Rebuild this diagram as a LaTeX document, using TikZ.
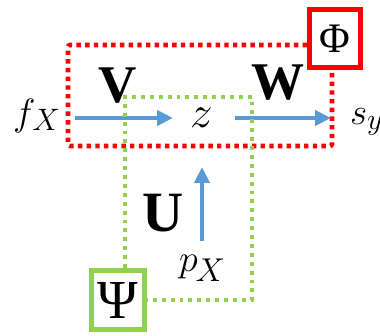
\RequirePackage{fix-cm}
\documentclass[tikz,border=0pt]{standalone}
\usepackage{fontspec}
\setmainfont{Liberation Serif}
\usetikzlibrary{arrows.meta}
\definecolor{rd}{HTML}{FF0000}
\definecolor{gr}{HTML}{92D050}
\definecolor{bl}{HTML}{5B9BD5}
\newcommand{\fsz}[1]{\fontsize{#1}{#1}\selectfont}
\newcommand{\itl}[1]{$#1$}
\begin{document}
\begin{tikzpicture}[x=1pt,y=-1pt,
  txt/.style={inner sep=0pt,outer sep=0pt},
  reddots/.style={draw=rd,line width=4.6pt,dash pattern=on 4.4pt off 4.3pt,rounded corners=2pt},
  grdots/.style={draw=gr,line width=3.9pt,dash pattern=on 3.9pt off 5pt},
  arr/.style={draw=bl,line width=4pt,-{Triangle[length=16pt,width=15pt]}},
  redbox/.style={draw=rd,line width=5pt,minimum width=51pt,minimum height=58pt,inner sep=0pt},
  grbox/.style={draw=gr,line width=5pt,minimum width=53pt,minimum height=59pt,inner sep=0pt}]
\useasboundingbox (0,0) rectangle (380,336);
% texts
\node[txt,anchor=base west] (fX) at (13,126) {\fsz{38}\itl{f}\kern-3pt\raisebox{-5pt}{\fsz{31}\itl{X}}};
\node[txt,anchor=base west] (z) at (190,128) {\fsz{45}\itl{z}};
\node[txt,anchor=base west] (sy) at (350,125) {\fsz{37}\itl{s}\raisebox{-5pt}{\fsz{30}\itl{y}}};
\node[txt,anchor=base west] (pX) at (179,271.5) {\fsz{38}\itl{p}\kern-2pt\raisebox{-10.5pt}{\fsz{33}\itl{X}}};
\node[txt,anchor=base] (V) at (117.5,103) {\fsz{53}\textbf{V}};
\node[txt,anchor=base] (W) at (277.5,100) {\fsz{53}\textbf{W}};
\node[txt,anchor=base] (U) at (163,232) {\fsz{57}\textbf{U}};
% boxes
\node[redbox] (Phi) at (335,38.5) {\fsz{42}Φ};
\node[grbox] (Psi) at (118,300) {\fsz{55}Ψ};
% red frame
\coordinate (rtop) at (0,45);
\coordinate (rl) at (68,146);
\coordinate (rr) at (332,146);
\coordinate (gbot) at (0,300);
\draw[reddots] (Phi.west |- rtop) -- (68,45) -- (rl) -- (rr) -- (rr |- Phi.south);
% arrows
\coordinate (a1s) at (75,118);
\coordinate (a1e) at (173,118);
\coordinate (a2s) at (235,118);
\coordinate (a2e) at (331,118);
\coordinate (a3s) at (202,241);
\coordinate (a3e) at (202,167);
\draw[arr] (a1s) -- (a1e);
\draw[arr] (a2s) -- (a2e);
\draw[arr] (a3s) -- (a3e);
% green frame
\draw[grdots] (Psi.north -| 125,0) -- (125,97) -- (252,97) -- (252,300) -- (Psi.east |- gbot);
\end{tikzpicture}
\end{document}
